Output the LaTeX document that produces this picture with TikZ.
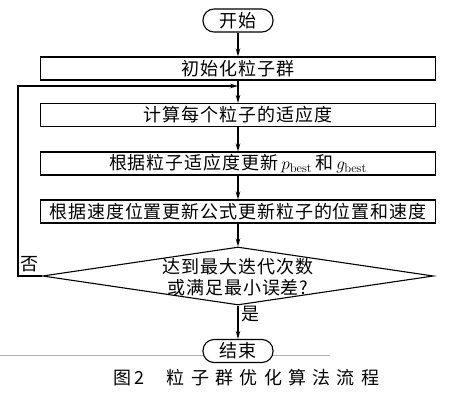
\documentclass[tikz,border=0pt]{standalone}
\usepackage{fontspec}
\usetikzlibrary{arrows.meta,shapes.geometric}
\newfontfamily\cjk[LetterSpace=5]{Noto Sans CJK SC}
\newfontfamily\cjkcap[LetterSpace=35]{Noto Sans CJK SC}

\begin{document}
\begin{tikzpicture}[x=1pt,y=-1pt,line width=1.1pt,
    font=\cjk\fontsize{18}{21.5}\selectfont,
    term/.style={draw,rounded corners=11pt,minimum width=70pt,minimum height=23pt,inner sep=0pt,fill=white},
    box/.style={draw,minimum width=395pt,minimum height=23pt,inner sep=0pt},
    cond/.style={draw,diamond,minimum width=391pt,minimum height=58pt,inner sep=0pt},
    arr/.style={-{Stealth[length=8pt,width=4.5pt]}}]
    \useasboundingbox (0,0) rectangle (449,401);

    % Page rule
    \draw[gray!60,line width=0.6pt] (0,355) -- (330,355);

    % Flow chart nodes
    \node[term] (start) at (238,20.5) {开始};
    \node[box] (init) at (238,68.5) {初始化粒子群};
    \node[box] (fit) at (238,115) {计算每个粒子的适应度};
    \node[box] (best) at (238,163.5) {根据粒子适应度更新\,$p_{\mathrm{best}}$\,和\,$g_{\mathrm{best}}$};
    \node[box] (move) at (238,211.5) {根据速度位置更新公式更新粒子的位置和速度};
    \node[cond] (check) at (238,276) {};
    \node[align=center] (checktext) at (238,277) {达到最大迭代次数\\或满足最小误差?};
    \node[term] (stop) at (238,351) {结束};

    % Connectors
    \coordinate (merge) at (238,86);
    \coordinate (back) at (18,276);
    \draw[arr] (start) -- (init);
    \draw[arr] (init) -- (fit);
    \draw[arr] (fit) -- (best);
    \draw[arr] (best) -- (move);
    \draw[arr] (move) -- (check);
    \draw[arr] (check) -- node[right,pos=0.25] {是} (stop);
    \draw[arr] (check.west) -- node[above] {否} (back) |- (merge);

    % Caption
    \node[font=\cjk\fontsize{18}{21}\selectfont] (fig) at (129,378) {图\,2};
    \node[font=\cjkcap\fontsize{18}{21}\selectfont,anchor=west] (title) at (163,378) {粒子群优化算法流程};
\end{tikzpicture}
\end{document}
